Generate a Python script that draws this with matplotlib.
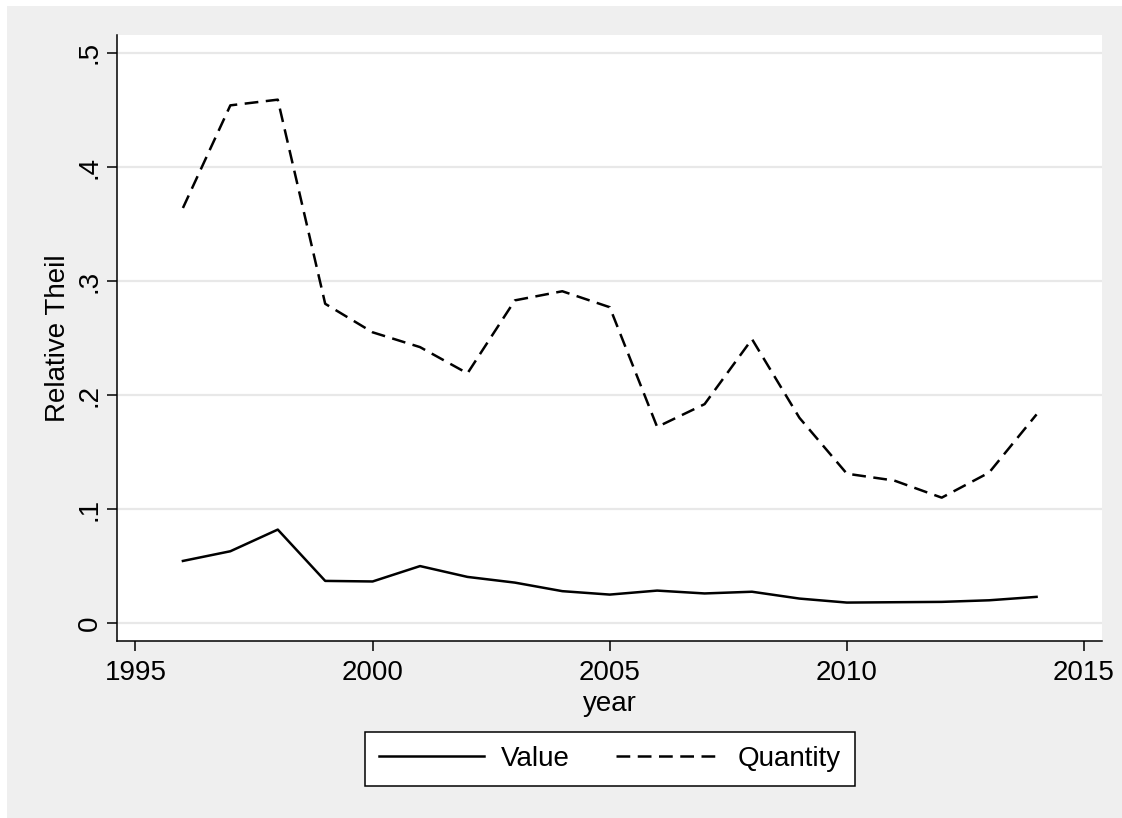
import matplotlib.pyplot as plt
from matplotlib.patches import Rectangle

# Relative Theil index by year, value vs quantity
years = [1996, 1997, 1998, 1999, 2000, 2001, 2002, 2003, 2004, 2005,
         2006, 2007, 2008, 2009, 2010, 2011, 2012, 2013, 2014]
theil_value = [0.0545, 0.063, 0.082, 0.037, 0.0365, 0.050, 0.0405, 0.0355, 0.028, 0.025,
               0.0285, 0.026, 0.0275, 0.0215, 0.018, 0.0183, 0.0186, 0.020, 0.023]
theil_quantity = [0.364, 0.454, 0.459, 0.280, 0.255, 0.242, 0.219, 0.283, 0.291, 0.277,
                  0.172, 0.192, 0.249, 0.180, 0.131, 0.125, 0.110, 0.132, 0.183]

xticks = [1995, 2000, 2005, 2010, 2015]
yticks = [0, 0.1, 0.2, 0.3, 0.4, 0.5]
ytick_labels = ['0', '.1', '.2', '.3', '.4', '.5']

plt.rcParams['font.family'] = ['Liberation Sans', 'DejaVu Sans']
plt.rcParams['font.size'] = 20

W, H = 1122, 818
fig = plt.figure(figsize=(W / 100, H / 100), dpi=100, facecolor='#efefef')
# thin white strips along the top and left edge
fig.patches.append(Rectangle((0, 0), 7 / W, 1, transform=fig.transFigure,
                             facecolor='white', edgecolor='none', zorder=-5))
fig.patches.append(Rectangle((0, 1 - 6 / H), 1, 6 / H, transform=fig.transFigure,
                             facecolor='white', edgecolor='none', zorder=-5))

ax = fig.add_axes([117 / W, 1 - 641 / H, (1102 - 117) / W, (641 - 35) / H])
ax.set_facecolor('white')

ax.plot(years, theil_value, color='black', linewidth=1.8, linestyle='-', label='Value')
ax.plot(years, theil_quantity, color='black', linewidth=1.8, linestyle=(0, (5.5, 3)),
        label='Quantity')

ax.set_xlim(1994.61, 2015.38)
ax.set_ylim(-0.0157, 0.5157)
ax.set_xticks(xticks)
ax.set_yticks(yticks)
ax.set_yticklabels(ytick_labels, rotation=90, va='center')

ax.grid(axis='y', color='#e8e8e8', linewidth=1.6)
ax.set_axisbelow(True)

for side in ['top', 'right']:
    ax.spines[side].set_visible(False)
for side in ['left', 'bottom']:
    ax.spines[side].set_linewidth(1.1)
ax.tick_params(axis='both', length=7.5, width=1.1, labelsize=20)
ax.tick_params(axis='x', pad=6)
ax.tick_params(axis='y', pad=3)

ax.set_xlabel('year', labelpad=4)
ax.set_ylabel('Relative Theil', labelpad=4)

ax.legend(loc='center', bbox_to_anchor=(610 / W, 1 - 759 / H), bbox_transform=fig.transFigure,
          ncol=2, frameon=True, fancybox=False, framealpha=1, edgecolor='black',
          handlelength=3.8, handletextpad=0.6, columnspacing=1.65, borderpad=0.5,
          fontsize=20)
leg = ax.get_legend()
leg.get_frame().set_linewidth(1.1)

fig.savefig('out.png', dpi=100, facecolor=fig.get_facecolor())
